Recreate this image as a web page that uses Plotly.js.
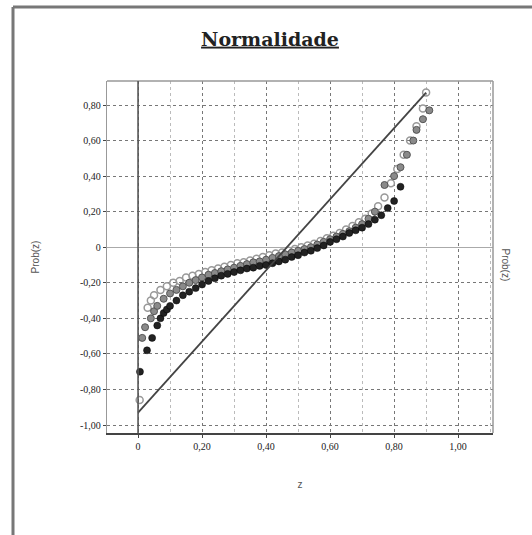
<!DOCTYPE html>
<html>
<head>
<meta charset="utf-8">
<script src="https://cdn.plot.ly/plotly-3.0.1.min.js"></script>
<style>html,body{margin:0;padding:0;background:#fff;}#chart{width:532px;height:535px;}</style>
</head>
<body>
<div id="chart"></div>
<script>
// Tick labels
const xTickVals = [0, 0.2, 0.4, 0.6, 0.8, 1.0];
const xTickText = ["0", "0,20", "0,40", "0,60", "0,80", "1,00"];
const yTickVals = [0.8, 0.6, 0.4, 0.2, 0, -0.2, -0.4, -0.6, -0.8, -1.0];
const yTickText = ["0,80", "0,60", "0,40", "0,20", "0", "-0,20", "-0,40", "-0,60", "-0,80", "-1,00"];

// Reference (normal) line
const refX = [0, 0.90];
const refY = [-0.93, 0.87];

// Series 1 (dark, lower band)
const s1X = [0.006, 0.028, 0.044, 0.06, 0.07, 0.08, 0.09, 0.10, 0.12, 0.14, 0.16, 0.18, 0.20, 0.22, 0.24, 0.26, 0.28, 0.30, 0.32, 0.34, 0.36, 0.38, 0.40, 0.42, 0.44, 0.46, 0.48, 0.50, 0.52, 0.54, 0.56, 0.58, 0.60, 0.62, 0.64, 0.66, 0.68, 0.70, 0.72, 0.74, 0.76, 0.78, 0.80, 0.82];
const s1Y = [-0.70, -0.58, -0.51, -0.44, -0.40, -0.37, -0.35, -0.33, -0.30, -0.27, -0.25, -0.23, -0.21, -0.19, -0.175, -0.16, -0.15, -0.14, -0.13, -0.12, -0.115, -0.105, -0.10, -0.09, -0.08, -0.07, -0.055, -0.045, -0.03, -0.02, -0.005, 0.01, 0.03, 0.045, 0.06, 0.08, 0.095, 0.11, 0.13, 0.155, 0.18, 0.22, 0.26, 0.34];

// Series 2 (grey, middle band)
const s2X = [0.013, 0.022, 0.04, 0.05, 0.06, 0.08, 0.10, 0.12, 0.14, 0.16, 0.18, 0.20, 0.22, 0.24, 0.26, 0.28, 0.30, 0.32, 0.34, 0.36, 0.38, 0.40, 0.42, 0.44, 0.46, 0.48, 0.50, 0.52, 0.54, 0.56, 0.58, 0.60, 0.62, 0.64, 0.66, 0.68, 0.70, 0.72, 0.74, 0.77, 0.80, 0.82, 0.84, 0.86, 0.87, 0.89, 0.91];
const s2Y = [-0.51, -0.45, -0.40, -0.36, -0.33, -0.29, -0.26, -0.24, -0.22, -0.20, -0.185, -0.17, -0.155, -0.145, -0.135, -0.125, -0.115, -0.105, -0.095, -0.085, -0.08, -0.07, -0.06, -0.05, -0.04, -0.03, -0.02, -0.01, 0.00, 0.015, 0.03, 0.045, 0.06, 0.075, 0.09, 0.11, 0.13, 0.16, 0.20, 0.35, 0.40, 0.45, 0.52, 0.60, 0.66, 0.72, 0.77];

// Series 3 (light, open markers, upper band)
const s3X = [0.005, 0.03, 0.04, 0.05, 0.07, 0.09, 0.11, 0.13, 0.15, 0.17, 0.19, 0.21, 0.23, 0.25, 0.27, 0.29, 0.31, 0.33, 0.35, 0.37, 0.39, 0.41, 0.43, 0.45, 0.47, 0.49, 0.51, 0.53, 0.55, 0.57, 0.59, 0.61, 0.63, 0.65, 0.67, 0.69, 0.71, 0.73, 0.75, 0.77, 0.79, 0.81, 0.83, 0.85, 0.87, 0.89, 0.90];
const s3Y = [-0.86, -0.34, -0.30, -0.27, -0.24, -0.22, -0.20, -0.19, -0.17, -0.16, -0.15, -0.14, -0.13, -0.12, -0.11, -0.10, -0.09, -0.085, -0.075, -0.065, -0.055, -0.045, -0.035, -0.03, -0.02, -0.01, 0.00, 0.01, 0.02, 0.035, 0.05, 0.065, 0.08, 0.10, 0.12, 0.14, 0.16, 0.19, 0.23, 0.28, 0.36, 0.44, 0.52, 0.60, 0.68, 0.78, 0.87];

const traces = [
  {x: s3X, y: s3Y, mode: "markers", type: "scatter",
   marker: {symbol: "circle-open", size: 7, color: "#999", line: {width: 1.5}}},
  {x: s2X, y: s2Y, mode: "markers", type: "scatter",
   marker: {symbol: "circle", size: 7, color: "#8a8a8a", line: {width: 1, color: "#555"}}},
  {x: s1X, y: s1Y, mode: "markers", type: "scatter",
   marker: {symbol: "circle", size: 7, color: "#222", line: {width: 0.5, color: "#000"}}},
  {x: refX, y: refY, mode: "lines", type: "scatter",
   line: {color: "#444", width: 1.8}}
];

const L = 107, R = 39, T = 81, B = 102, W = 532, H = 535;
const pw = W - L - R, ph = H - T - B;
const px = v => (v - L) / pw;
const py = v => (H - B - v) / ph;

const tickFont = {family: "Liberation Serif", size: 10, color: "#222"};

const layout = {
  width: W, height: H,
  margin: {l: L, r: R, t: T, b: B},
  paper_bgcolor: "#fff", plot_bgcolor: "#fff",
  showlegend: false,
  title: {text: "<u>Normalidade</u>", x: 270 / W, xref: "container", xanchor: "center", y: 1 - 39 / H, yanchor: "middle",
          font: {family: "DejaVu Serif", size: 19, weight: "bold", color: "#222"}},
  xaxis: {
    range: [-0.097, 1.109], tickvals: xTickVals, ticktext: xTickText, tickfont: tickFont,
    showgrid: true, gridcolor: "#777", griddash: "dot", gridwidth: 1,
    minor: {dtick: 0.1, tick0: 0, showgrid: true, gridcolor: "#bbb", griddash: "dot", gridwidth: 1},
    zeroline: false, showline: true, linecolor: "#444", linewidth: 2, mirror: false,
    ticks: "outside", ticklen: 3, tickcolor: "#444",
    title: {text: "z", standoff: 30, font: {family: "Liberation Sans", size: 10, color: "#555"}}
  },
  yaxis: {
    range: [-1.045, 0.935], tickvals: yTickVals, ticktext: yTickText, tickfont: tickFont,
    showgrid: true, gridcolor: "#777", griddash: "dot", gridwidth: 1,
    zeroline: true, zerolinecolor: "#aaa", zerolinewidth: 1.2,
    showline: true, linecolor: "#999", linewidth: 1.2,
    ticks: "outside", ticklen: 3, tickcolor: "#444",
    title: {text: "Prob(z)", standoff: 38, font: {family: "Liberation Sans", size: 10, color: "#555"}}
  },
  shapes: [
    // frame (top and right)
    {type: "line", xref: "paper", yref: "paper", x0: 0, x1: 1, y0: 1, y1: 1, line: {color: "#999", width: 1.5}},
    {type: "line", xref: "paper", yref: "paper", x0: 1, x1: 1, y0: 0, y1: 1, line: {color: "#999", width: 1.5}},
    // x = 0 vertical line
    {type: "line", xref: "x", yref: "paper", x0: 0, x1: 0, y0: 0, y1: 1, line: {color: "#555", width: 1.6}},
    // outer border
    {type: "line", xref: "paper", yref: "paper", x0: px(13), x1: px(13), y0: py(7), y1: py(540), line: {color: "#777", width: 3}},
    {type: "line", xref: "paper", yref: "paper", x0: px(13), x1: px(540), y0: py(7), y1: py(7), line: {color: "#777", width: 3}}
  ],
  annotations: [
    {text: "Prob(z)", xref: "paper", yref: "paper", x: px(513), y: py(265), showarrow: false,
     textangle: 90, font: {family: "Liberation Sans", size: 10, color: "#555"}}
  ]
};

Plotly.newPlot("chart", traces, layout, {displayModeBar: false, staticPlot: true});
</script>
</body>
</html>
